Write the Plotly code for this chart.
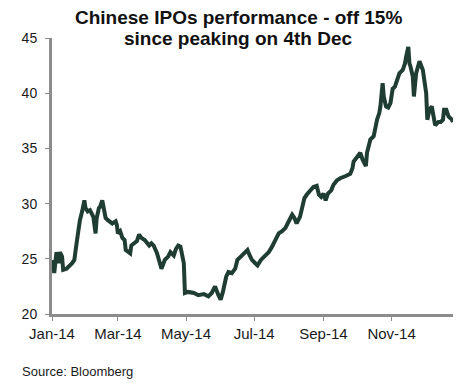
import pandas as pd
import plotly.graph_objects as go

# Day offsets from 1 Jan 2014 and index level
days = [1, 2, 4, 6, 7, 9, 10, 13, 18, 20,
        22, 24, 25, 27, 29, 30, 32, 34, 36, 37,
        39, 40, 42, 43, 45, 47, 48, 50, 54, 57,
        58, 59, 61, 63, 65, 66, 68, 70, 71, 74,
        76, 78, 80, 83, 85, 87, 89, 91, 94, 97,
        98, 101, 104, 106, 109, 111, 113, 115, 118, 119,
        122, 127, 131, 136, 140, 143, 146, 149, 151, 153,
        156, 158, 161, 164, 166, 169, 172, 175, 177, 179,
        182, 184, 187, 190, 192, 194, 197, 200, 203, 206,
        209, 212, 215, 217, 219, 222, 224, 226, 228, 231,
        234, 237, 239, 241, 243, 245, 247, 250, 252, 255,
        258, 263, 267, 269, 270, 273, 276, 278, 281, 282,
        284, 285, 288, 289, 291, 293, 294, 296, 297, 299,
        301, 303, 305, 307, 309, 311, 314, 316, 317, 319,
        320, 321, 323, 324, 326, 328, 329, 332, 333, 335,
        336, 338, 340, 341, 343, 346, 348, 350, 351, 353,
        355, 358, 359]
values = [24.9, 23.7, 25.6, 24.6, 25.6, 25.2, 24.0, 24.1, 24.6, 24.9,
          26.4, 28.2, 28.5, 29.3, 30.3, 29.6, 29.3, 29.4, 29.1, 28.8,
          27.3, 28.7, 29.6, 29.7, 30.3, 29.4, 28.7, 28.5, 28.2, 28.4,
          28.1, 27.3, 27.5, 26.9, 26.7, 25.8, 25.6, 25.5, 26.2, 26.4,
          26.6, 27.2, 26.9, 26.7, 26.4, 26.2, 26.4, 26.2, 25.5, 24.6,
          24.1, 24.9, 25.2, 25.6, 25.3, 25.9, 26.2, 26.1, 24.6, 21.9,
          22.0, 21.9, 21.7, 21.8, 21.6, 21.9, 22.5, 21.7, 21.3, 22.0,
          23.4, 23.8, 23.7, 24.1, 24.9, 25.2, 25.5, 25.8, 25.3, 24.9,
          24.6, 24.4, 24.9, 25.2, 25.5, 25.6, 26.1, 26.7, 27.3, 27.5,
          27.8, 28.4, 29.0, 28.7, 28.2, 28.8, 29.7, 30.5, 30.8, 31.1,
          31.5, 31.6, 30.8, 30.6, 30.9, 30.3, 30.9, 31.2, 31.7, 32.1,
          32.3, 32.5, 32.7, 33.2, 33.8, 34.2, 34.6, 34.0, 33.4, 34.6,
          35.3, 35.8, 36.1, 36.7, 37.6, 38.2, 38.8, 40.9, 39.7, 38.8,
          38.7, 39.1, 40.4, 40.6, 41.3, 41.8, 42.1, 42.7, 43.3, 44.2,
          42.7, 42.4, 41.5, 39.7, 41.8, 42.6, 42.9, 42.1, 41.5, 40.0,
          37.6, 38.5, 38.8, 38.3, 37.1, 37.4, 37.4, 37.6, 38.5, 38.5,
          37.9, 37.6, 37.4]

tick_dates = ["2014-01-01", "2014-03-01", "2014-05-01", "2014-07-01", "2014-09-01", "2014-11-01"]
tick_labels = ["Jan-14", "Mar-14", "May-14", "Jul-14", "Sep-14", "Nov-14"]
y_ticks = [20, 25, 30, 35, 40, 45]

title_lines = ["Chinese IPOs performance - off 15%", "since peaking on 4th Dec"]
source_text = "Source: Bloomberg"

dates = pd.Timestamp("2014-01-01") + pd.to_timedelta(days, unit="D")

FONT = "Liberation Sans, Arial, sans-serif"
AXIS = "#8c8c8c"

fig = go.Figure()
fig.add_trace(go.Scatter(
    x=dates, y=values, mode="lines",
    line=dict(color="#1f3d32", width=4),
    hoverinfo="skip", showlegend=False,
))

title_font = dict(family=FONT, size=19, color="#111111", weight="bold")

# The page body adds an 8px offset, so the figure is 8px smaller and margins shifted.
fig.update_layout(
    width=460, height=380,
    margin=dict(l=44, r=15, t=30, b=74),
    paper_bgcolor="white", plot_bgcolor="white",
    font=dict(family=FONT, color="#1a1a1a"),
    xaxis=dict(
        range=["2014-01-01", "2014-12-26"],
        tickvals=tick_dates, ticktext=tick_labels,
        showgrid=False, zeroline=False,
        showline=True, linecolor=AXIS, linewidth=3,
        ticks="outside", ticklen=4, tickwidth=1, tickcolor=AXIS,
        tickfont=dict(size=15, color="#1a1a1a"),
    ),
    yaxis=dict(
        range=[20, 45], tickvals=y_ticks,
        showgrid=False, zeroline=False,
        showline=True, linecolor=AXIS, linewidth=3,
        ticks="outside", ticklen=4, tickwidth=1, tickcolor=AXIS,
        ticklabelstandoff=5,
        tickfont=dict(size=14, color="#1a1a1a"),
    ),
    annotations=[
        dict(
            text=title_lines[0], xref="paper", yref="paper",
            x=0.464, y=1.075, xanchor="center", yanchor="middle",
            showarrow=False, font=title_font,
        ),
        dict(
            text=title_lines[1], xref="paper", yref="paper",
            x=0.464, y=0.9964, xanchor="center", yanchor="middle",
            showarrow=False, font=title_font,
        ),
        dict(
            text=source_text, xref="paper", yref="paper",
            x=-0.08, y=-0.21, xanchor="left", yanchor="middle",
            showarrow=False, font=dict(family=FONT, size=13, color="#1a1a1a"),
        ),
    ],
)

fig.write_html("out.html")
